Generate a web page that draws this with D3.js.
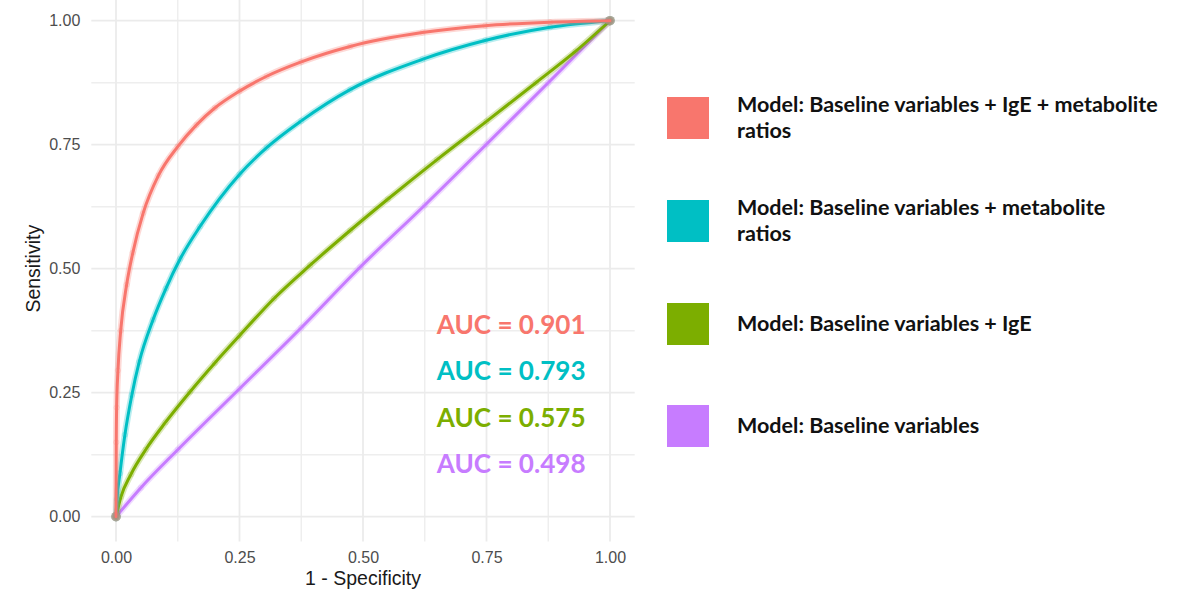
<!DOCTYPE html>
<html>
<head>
<meta charset="utf-8">
<script src="https://cdn.jsdelivr.net/npm/d3@7"></script>
<style>
  html, body { margin: 0; padding: 0; background: #fff; }
  svg { display: block; }
</style>
</head>
<body>
<svg id="chart" width="1178" height="590"></svg>
<script>
// ROC curves for four prediction models
const seriesNames = [
  "Model: Baseline variables + IgE + metabolite ratios",
  "Model: Baseline variables + metabolite ratios",
  "Model: Baseline variables + IgE",
  "Model: Baseline variables"
];
const legendLines = [
  ["Model: Baseline variables + IgE + metabolite", "ratios"],
  ["Model: Baseline variables + metabolite", "ratios"],
  ["Model: Baseline variables + IgE"],
  ["Model: Baseline variables"]
];
const seriesColors = ["#F8766D", "#00BFC4", "#7CAE00", "#C77CFF"];
const aucValues = [0.901, 0.793, 0.575, 0.498];

// 1 - specificity / sensitivity pairs per model
const fprFull = [0, 0.0005, 0.0013, 0.004, 0.0095, 0.0216, 0.034, 0.055, 0.086, 0.125, 0.163, 0.2, 0.25, 0.305, 0.375, 0.474, 0.62, 0.747, 0.879, 1];
const tprFull = [0, 0.15, 0.22, 0.295, 0.375, 0.468, 0.532, 0.612, 0.688, 0.746, 0.79, 0.824, 0.858, 0.888, 0.917, 0.948, 0.976, 0.99, 0.997, 1];

const fprMetab = [0, 0.002, 0.008, 0.018, 0.032, 0.047, 0.075, 0.101, 0.13, 0.17, 0.25, 0.305, 0.375, 0.474, 0.62, 0.747, 0.879, 1];
const tprMetab = [0, 0.035, 0.0875, 0.165, 0.245, 0.312, 0.397, 0.46, 0.52, 0.585, 0.69, 0.744, 0.798, 0.861, 0.922, 0.96, 0.987, 1];

const fprIgE = [0, 0.01, 0.03, 0.06, 0.1, 0.15, 0.2, 0.25, 0.32, 0.393, 0.474, 0.55, 0.65, 0.75, 0.85, 0.93, 1];
const tprIgE = [0, 0.04, 0.085, 0.135, 0.19, 0.252, 0.31, 0.365, 0.44, 0.507, 0.577, 0.64, 0.72, 0.797, 0.875, 0.938, 1];

const fprBase = [0, 0.05, 0.125, 0.25, 0.375, 0.494, 0.625, 0.75, 0.875, 1];
const tprBase = [0, 0.058, 0.135, 0.258, 0.381, 0.503, 0.628, 0.751, 0.875, 1];

const axisTicks = [0, 0.25, 0.5, 0.75, 1];
const minorTicks = [0.125, 0.375, 0.625, 0.875];

const curves = [
  { fpr: fprFull, tpr: tprFull },
  { fpr: fprMetab, tpr: tprMetab },
  { fpr: fprIgE, tpr: tprIgE },
  { fpr: fprBase, tpr: tprBase }
].map((c, i) => ({
  name: seriesNames[i],
  color: seriesColors[i],
  points: c.fpr.map((x, j) => ({ x, y: c.tpr[j] }))
}));

const svg = d3.select("#chart");

// Panel with the usual 5% padding around [0, 1]
const x = d3.scaleLinear().domain([-0.05, 1.05]).range([91.3, 634.7]);
const y = d3.scaleLinear().domain([-0.05, 1.05]).range([541.5, -4.1]);

const grid = svg.append("g");
const gridLines = (vals, color, width) => {
  grid.selectAll(null).data(vals).join("line")
    .attr("x1", d => x(d)).attr("x2", d => x(d))
    .attr("y1", y.range()[0]).attr("y2", y.range()[1])
    .attr("stroke", color).attr("stroke-width", width);
  grid.selectAll(null).data(vals).join("line")
    .attr("y1", d => y(d)).attr("y2", d => y(d))
    .attr("x1", x.range()[0]).attr("x2", x.range()[1])
    .attr("stroke", color).attr("stroke-width", width);
};
gridLines(minorTicks, "#EEEEEE", 1.4);
gridLines(axisTicks, "#EBEBEB", 1.8);

// Axes (labels only, no domain line or tick marks)
const fmt = d3.format(".2f");
const xAxis = svg.append("g")
  .attr("transform", `translate(0,${y.range()[0] + 2})`)
  .call(d3.axisBottom(x).tickValues(axisTicks).tickFormat(fmt).tickSize(0).tickPadding(8));
const yAxis = svg.append("g")
  .attr("transform", `translate(${x.range()[0] - 2},0)`)
  .call(d3.axisLeft(y).tickValues(axisTicks).tickFormat(fmt).tickSize(0).tickPadding(9));
[xAxis, yAxis].forEach(a => {
  a.select(".domain").remove();
  a.selectAll("text")
    .attr("fill", "#4d4d4d")
    .style("font-family", "'Liberation Sans', Arial, sans-serif")
    .style("font-size", "16px");
});

svg.append("text")
  .attr("x", x(0.5)).attr("y", 585)
  .attr("text-anchor", "middle")
  .style("font-family", "'Liberation Sans', Arial, sans-serif")
  .style("font-size", "19.5px")
  .attr("fill", "#1a1a1a")
  .text("1 - Specificity");

svg.append("text")
  .attr("transform", `translate(40,${y(0.5)}) rotate(-90)`)
  .attr("text-anchor", "middle")
  .style("font-family", "'Liberation Sans', Arial, sans-serif")
  .style("font-size", "19.5px")
  .attr("fill", "#1a1a1a")
  .text("Sensitivity");

// Curves: soft halo under a solid core line
const line = d3.line().x(d => x(d.x)).y(d => y(d.y)).curve(d3.curveMonotoneX);
const curveG = svg.append("g");
curves.slice().reverse().forEach(c => {
  curveG.append("path").datum(c.points)
    .attr("d", line).attr("fill", "none")
    .attr("stroke", c.color).attr("stroke-width", 6.5)
    .attr("stroke-opacity", 0.28).attr("stroke-linecap", "round");
  curveG.append("path").datum(c.points)
    .attr("d", line).attr("fill", "none")
    .attr("stroke", c.color).attr("stroke-width", 3)
    .attr("stroke-linecap", "round");
  curveG.selectAll(null).data(c.points.slice(1, -1)).join("circle")
    .attr("cx", d => x(d.x)).attr("cy", d => y(d.y)).attr("r", 2.6)
    .attr("fill", "none").attr("stroke", c.color)
    .attr("stroke-opacity", 0.2).attr("stroke-width", 1);
  curveG.selectAll(null).data([c.points[0], c.points[c.points.length - 1]]).join("circle")
    .attr("cx", d => x(d.x)).attr("cy", d => y(d.y)).attr("r", 4.8)
    .attr("fill", c.color).attr("fill-opacity", 0.35);
});

// AUC annotations
const fitWidth = (sel, target) => {
  const w = sel.node().getComputedTextLength();
  const fs = parseFloat(sel.style("font-size"));
  sel.style("font-size", (fs * target / w) + "px");
};
const aucG = svg.append("g");
aucValues.forEach((v, i) => {
  const t = aucG.append("text")
    .attr("x", x(0.8)).attr("y", 334 + i * 46.3)
    .attr("text-anchor", "middle")
    .style("font-family", "Lato, 'Open Sans', sans-serif")
    .style("font-weight", "700")
    .style("font-size", "24px")
    .attr("fill", seriesColors[i])
    .text(`AUC = ${d3.format(".3f")(v)}`);
  fitWidth(t, 149);
});

// Legend
const legend = svg.append("g");
const keyTops = [97, 200, 303, 405];
let legendFont = 20;
{
  const probe = legend.append("text")
    .style("font-family", "Lato, 'Open Sans', sans-serif")
    .style("font-weight", "700").style("font-size", "20px")
    .text(legendLines[0][0]);
  legendFont = 20 * 421 / probe.node().getComputedTextLength();
  probe.remove();
}
curves.forEach((c, i) => {
  const top = keyTops[i];
  legend.append("rect")
    .attr("x", 667).attr("y", top).attr("width", 42).attr("height", 42)
    .attr("fill", c.color);
  const lines = legendLines[i];
  const lh = 26;
  const cy = top + 21;
  const firstBase = cy + 7 - (lines.length - 1) * lh / 2;
  const t = legend.append("text")
    .attr("x", 737).attr("y", firstBase)
    .style("font-family", "Lato, 'Open Sans', sans-serif")
    .style("font-weight", "700")
    .style("font-size", legendFont + "px")
    .attr("fill", "#111");
  lines.forEach((ln, k) => {
    t.append("tspan").attr("x", 737).attr("dy", k === 0 ? 0 : lh).text(ln);
  });
});
</script>
</body>
</html>
